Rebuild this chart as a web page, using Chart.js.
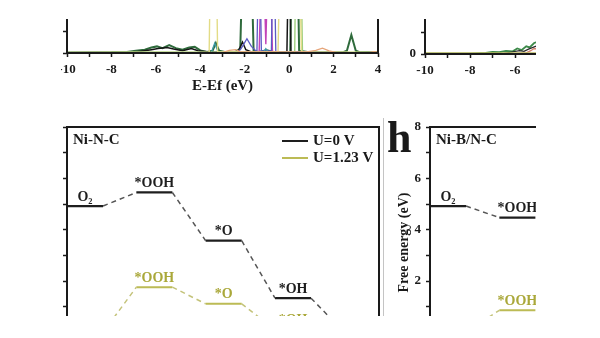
<!DOCTYPE html>
<html>
<head>
<meta charset="utf-8">
<script src="https://cdn.jsdelivr.net/npm/chart.js@4.4.0/dist/chart.umd.min.js"></script>
<style>
body { margin: 0; background: #fff; width: 600px; height: 338px; overflow: hidden; }
#crop { position: absolute; left: 0; top: 0; width: 600px; height: 338px; clip-path: inset(19px 64px 22px 61px); }
#crop canvas { position: absolute; }
#sep { position: absolute; left: 383px; top: 118px; width: 1px; height: 200px; background: #c4c4c4; }
</style>
</head>
<body>
<div id="crop">
  <canvas id="dosA" width="400" height="140" style="left:0px;top:-40px"></canvas>
  <canvas id="dosB" width="400" height="140" style="left:380px;top:-39px"></canvas>
  <canvas id="freeC" width="400" height="280" style="left:0px;top:100px"></canvas>
  <canvas id="freeD" width="400" height="280" style="left:380px;top:100px"></canvas>
  <div id="sep"></div>
</div>
<script>
// ---- DOS (top panels), y in arbitrary units ----
let dosDarkGreen = [[-10,0.02],[-8,0.03],[-7.3,0.05],[-6.9,0.1],[-6.5,0.15],[-6.2,0.25],[-5.95,0.3],[-5.7,0.22],[-5.4,0.36],[-5.1,0.22],[-4.8,0.15],[-4.5,0.25],[-4.25,0.28],[-4.0,0.12],[-3.7,0.05],[-3.45,0.1],[-3.3,0.45],[-3.15,0.1],[-2.9,0.05],[-2.4,0.06],[-2.2,0.2],[-2.05,6],[-1.75,6],[-1.6,0.1],[-1.4,0.05],[-1.0,0.12],[-0.7,0.05],[0.05,0.05],[0.15,6],[0.35,6],[0.45,0.1],[0.9,0.03],[2.4,0.03],[2.6,0.1],[2.8,0.82],[3.0,0.1],[3.2,0.03],[4,0.03]];
let dosBlack = [[-10,0.01],[-7,0.03],[-6.2,0.15],[-5.9,0.2],[-5.5,0.25],[-5.2,0.18],[-4.8,0.1],[-4.4,0.2],[-4.1,0.1],[-3.5,0.03],[-2.3,0.05],[-2.1,0.5],[-1.95,0.15],[-1.7,0.05],[-0.1,0.05],[0.0,6],[0.08,0.05],[1,0.02],[4,0.01]];
let dosYellow = [[-10,0.02],[-3.6,0.03],[-3.52,6],[-3.3,6],[-3.22,0.05],[-0.5,0.05],[-0.38,6],[0.45,6],[0.55,0.05],[4,0.02]];
let dosMagenta = [[-10,0],[-1.35,0.02],[-1.2,6],[-1.05,0.4],[-0.9,6],[-0.75,0.05],[4,0]];
let dosBlue = [[-10,0],[-2.3,0.02],[-2.1,0.3],[-1.9,0.65],[-1.7,0.3],[-1.45,0.05],[-1.35,6],[-1.25,0.1],[-0.8,0.1],[-0.7,6],[-0.6,0.05],[4,0]];
let dosTeal = [[-10,0],[-3.5,0.02],[-3.35,0.45],[-3.2,0.05],[-1.15,0.05],[-1.05,0.2],[-0.95,0.05],[4,0]];
let dosOrange = [[-10,0.01],[-3.0,0.02],[-2.7,0.12],[-2.4,0.15],[-2.2,0.05],[-0.4,0.05],[0.8,0.05],[1.2,0.12],[1.5,0.22],[1.8,0.1],[2.1,0.03],[3.6,0.02],[3.8,0.06],[4,0.04]];
let dosLightGreen = [[-10,0.02],[-7,0.05],[-3,0.04],[0.25,0.05],[0.32,6],[0.5,6],[0.6,0.05],[4,0.03]];

let dosRightOlive = [[-10,0.04],[-5,0.05]];
let dosRightRed = [[-10,0.01],[-6,0.02],[-5.5,0.05],[-5.3,0.15],[-5.15,0.25],[-5.0,0.22]];
let dosRightGreen = [[-10,0.02],[-8,0.02],[-7.3,0.05],[-7.0,0.1],[-6.7,0.08],[-6.4,0.14],[-6.1,0.12],[-5.9,0.25],[-5.7,0.18],[-5.5,0.35],[-5.35,0.3],[-5.15,0.5],[-5.0,0.55]];
let dosRightBlack = [[-10,0.01],[-6.5,0.03],[-6.2,0.08],[-5.8,0.15],[-5.6,0.12],[-5.4,0.22],[-5.2,0.3],[-5.0,0.38]];

// ---- free energy (bottom panels), eV ----
let stepsNiNC = ['O\u2082', '*OOH', '*O', '*OH', ''];
let niNC_U0 = [4.92, 5.45, 3.57, 1.33, 0];
let niNC_U123 = [0, 1.76, 1.11, 0.10, 0];
let stepsNiBNC = ['O\u2082', '*OOH'];
let niBNC_U0 = [4.92, 4.47];
let niBNC_U123 = [0, 0.86];

const serif = '"Liberation Serif", "DejaVu Serif", serif';
Chart.defaults.font.family = serif;
Chart.defaults.font.weight = 'bold';
Chart.defaults.color = '#1a1a1a';
Chart.defaults.animation = false;

const levelW = 0.52;
function levelPoints(vals) {
  let pts = [];
  vals.forEach((v, i) => {
    pts.push({x: i, y: v}, {x: i + levelW, y: v}, {x: i + 0.76, y: null});
  });
  return pts;
}
function linkPoints(vals) {
  let pts = [];
  for (let i = 0; i < vals.length - 1; i++) {
    pts.push({x: i + levelW, y: vals[i]}, {x: i + 1, y: vals[i + 1]}, {x: i + 1.01, y: null});
  }
  return pts;
}
function xy(arr) {
  return arr.map(p => ({x: p[0], y: p[1]}));
}
function evenLabel(v) {
  return Math.round(v) % 2 === 0 ? String(v) : '';
}

const framePlugin = {
  id: 'frame',
  afterDraw(chart) {
    const {ctx, chartArea: a} = chart;
    ctx.save();
    ctx.strokeStyle = '#1a1a1a';
    ctx.lineWidth = 2;
    ctx.strokeRect(a.left, a.top, a.right - a.left, a.bottom - a.top);
    ctx.restore();
  }
};

const levelLabels = {
  id: 'levelLabels',
  afterDatasetsDraw(chart) {
    const {ctx} = chart;
    const x = chart.scales.x, y = chart.scales.y;
    chart.data.datasets.forEach(ds => {
      if (!ds.levelNames) return;
      ctx.save();
      ctx.font = 'bold 14px ' + serif;
      ctx.fillStyle = ds.textColor;
      ctx.textAlign = 'center';
      ctx.textBaseline = 'bottom';
      ds.levelNames.forEach((name, i) => {
        ctx.fillText(name, x.getPixelForValue(i + levelW / 2), y.getPixelForValue(ds.levelValues[i]) - 2);
      });
      ctx.restore();
    });
  }
};

// panel title, legend and big letter, drawn inside the plot
const panelText = {
  id: 'panelText',
  afterDraw(chart, args, opts) {
    const {ctx, chartArea: a} = chart;
    ctx.save();
    ctx.font = 'bold 15px ' + serif;
    ctx.fillStyle = '#1a1a1a';
    ctx.textBaseline = 'middle';
    ctx.fillText(opts.title, a.left + 6, a.top + 13);
    if (opts.legend) {
      chart.data.datasets.forEach(ds => {
        if (!ds.legendLabel) return;
        const ly = a.top + ds.legendRow;
        ctx.strokeStyle = ds.borderColor;
        ctx.lineWidth = 2;
        ctx.beginPath();
        ctx.moveTo(a.right - 97, ly);
        ctx.lineTo(a.right - 71, ly);
        ctx.stroke();
        ctx.fillText(ds.legendLabel, a.right - 66, ly);
      });
    }
    if (opts.letter) {
      ctx.font = 'bold 44px ' + serif;
      ctx.textBaseline = 'alphabetic';
      ctx.fillText(opts.letter, a.left - 43, a.top + 25);
    }
    ctx.restore();
  }
};

function dosLine(data, color, width) {
  return {data: xy(data), borderColor: color, borderWidth: width, pointRadius: 0, tension: 0};
}

function dosChart(id, sets, yWidth, pad) {
  return new Chart(document.getElementById(id), {
    type: 'line',
    data: {datasets: sets},
    options: {
      responsive: false,
      layout: {padding: pad},
      plugins: {legend: {display: false}, tooltip: {enabled: false}},
      scales: {
        x: {
          type: 'linear', min: -10, max: 4,
          afterFit: s => { s.height = 42; },
          border: {display: false},
          grid: {drawOnChartArea: false, tickLength: 4, tickWidth: 1.5, tickColor: '#1a1a1a'},
          ticks: {stepSize: 1, padding: 5, maxRotation: 0, autoSkip: false, font: {size: 13, weight: 'bold'}, callback: evenLabel},
          title: {display: true, text: 'E-Ef (eV)', padding: 0, font: {size: 15, weight: 'bold'}}
        },
        y: {
          min: 0, max: 3,
          afterFit: s => { s.width = yWidth; },
          border: {display: false},
          grid: {drawOnChartArea: false, tickLength: 4, tickWidth: 1.5, tickColor: '#1a1a1a'},
          ticks: {stepSize: 1, padding: 5, font: {size: 13, weight: 'bold'}, callback: evenLabel}
        }
      }
    },
    plugins: [framePlugin]
  });
}

dosChart('dosA', [
  dosLine(dosOrange, '#e6a57a', 1.3),
  dosLine(dosYellow, '#e3dc86', 1.4),
  dosLine(dosLightGreen, '#9fcf7e', 1.4),
  dosLine(dosTeal, '#3f9aa6', 1.3),
  dosLine(dosBlue, '#5a5ac4', 1.3),
  dosLine(dosMagenta, '#c344b8', 1.4),
  dosLine(dosBlack, '#151515', 1.5),
  dosLine(dosDarkGreen, '#2f6b3c', 2)
], 20, {left: 47, right: 22, top: 27, bottom: 5});

dosChart('dosB', [
  dosLine(dosRightOlive, '#bdbb62', 1.5),
  dosLine(dosRightRed, '#d5806f', 1.3),
  dosLine(dosRightBlack, '#2a2a2a', 1.2),
  dosLine(dosRightGreen, '#3d8a4a', 1.8)
], 30, {left: 15, right: 40, top: 27, bottom: 5});

function freeChart(id, steps, u0, u123, yWidth, pad, textOpts, showTitle) {
  const black = '#1e1e1e', olive = '#bcbb55';
  return new Chart(document.getElementById(id), {
    type: 'line',
    data: {datasets: [
      {data: linkPoints(u123), borderColor: '#c4c37a', borderWidth: 1.5, borderDash: [5, 4], pointRadius: 0, spanGaps: false},
      {data: levelPoints(u123), borderColor: olive, borderWidth: 2, pointRadius: 0, spanGaps: false,
       levelNames: steps, levelValues: u123, textColor: '#aaa83a', legendLabel: 'U=1.23 V', legendRow: 31},
      {data: linkPoints(u0), borderColor: '#555', borderWidth: 1.5, borderDash: [5, 4], pointRadius: 0, spanGaps: false},
      {data: levelPoints(u0), borderColor: black, borderWidth: 2.2, pointRadius: 0, spanGaps: false,
       levelNames: steps, levelValues: u0, textColor: black, legendLabel: 'U=0 V', legendRow: 14}
    ]},
    options: {
      responsive: false,
      layout: {padding: pad},
      plugins: {legend: {display: false}, tooltip: {enabled: false}, panelText: textOpts},
      scales: {
        x: {type: 'linear', min: 0, max: 4.5, display: false},
        y: {
          min: -1, max: 8,
          afterFit: s => { s.width = yWidth; },
          border: {display: false},
          grid: {drawOnChartArea: false, tickLength: 4, tickWidth: 1.5, tickColor: '#1a1a1a'},
          ticks: {stepSize: 1, padding: 5, font: {size: 13, weight: 'bold'}, callback: evenLabel},
          title: {display: showTitle, text: 'Free energy (eV)', padding: 0, font: {size: 14, weight: 'bold'}}
        }
      }
    },
    plugins: [framePlugin, levelLabels, panelText]
  });
}

freeChart('freeC', stepsNiNC, niNC_U0, niNC_U123, 20, {left: 47, right: 21, top: 27, bottom: 22},
  {title: 'Ni-N-C', legend: true}, false);
freeChart('freeD', stepsNiBNC, niBNC_U0, niBNC_U123, 34, {left: 16, right: 38, top: 27, bottom: 22},
  {title: 'Ni-B/N-C', legend: false, letter: 'h'}, true);
</script>
</body>
</html>
